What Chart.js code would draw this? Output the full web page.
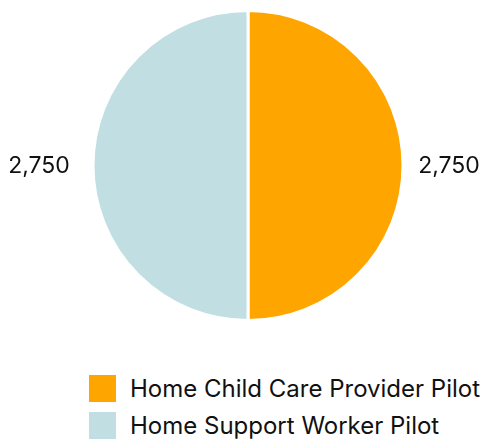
<!DOCTYPE html>
<html>
<head>
<meta charset="utf-8">
<script src="https://cdn.jsdelivr.net/npm/chart.js@4"></script>
<style>
  body { margin: 0; background: #fff; font-family: Inter, sans-serif; }
  #wrap { position: relative; width: 483px; height: 439px; }
  #box { position: absolute; left: 0; top: 0; width: 483px; height: 330px; }
  #legend { position: absolute; left: 89px; top: 375px; }
  .item { display: flex; align-items: center; height: 27px; margin-bottom: 10px; font-size: 24px; color: #111; white-space: nowrap; }
  .sw { width: 27px; height: 27px; margin-right: 14px; flex: none; }
</style>
</head>
<body>
<div id="wrap">
  <div id="box"><canvas id="pie"></canvas></div>
  <div id="legend"></div>
</div>
<script>
const categorias = ["Home Child Care Provider Pilot", "Home Support Worker Pilot"];
const valores = [2750, 2750];
const cores = ["#FFA500", "#C1DFE3"];

// rótulos de valor fora da pizza
const rotulos = {
  id: "rotulos",
  afterDatasetsDraw(chart) {
    const ctx = chart.ctx;
    const meta = chart.getDatasetMeta(0);
    ctx.save();
    ctx.font = "23px Inter, sans-serif";
    ctx.fillStyle = "#111";
    ctx.textAlign = "center";
    ctx.textBaseline = "middle";
    meta.data.forEach((arc, i) => {
      const p = arc.getProps(["x", "y", "startAngle", "endAngle", "outerRadius"], true);
      const ang = (p.startAngle + p.endAngle) / 2;
      const r = p.outerRadius + 50;
      const txt = valores[i].toLocaleString("en-US");
      ctx.fillText(txt, p.x + Math.cos(ang) * r - 4, p.y + Math.sin(ang) * r + 1);
    });
    ctx.restore();
  },
};

new Chart(document.getElementById("pie"), {
  type: "pie",
  data: {
    labels: categorias,
    datasets: [
      {
        data: valores,
        backgroundColor: cores,
        borderColor: "#fff",
        borderWidth: 3,
      },
    ],
  },
  options: {
    responsive: true,
    maintainAspectRatio: false,
    animation: false,
    layout: { padding: { top: 9, bottom: 8, left: 13, right: 0 } },
    plugins: { legend: { display: false }, tooltip: { enabled: false } },
  },
  plugins: [rotulos],
});

// legenda em HTML
const leg = document.getElementById("legend");
categorias.forEach((c, i) => {
  const d = document.createElement("div");
  d.className = "item";
  d.innerHTML = `<span class="sw" style="background:${cores[i]}"></span><span>${c}</span>`;
  leg.appendChild(d);
});
</script>
</body>
</html>
